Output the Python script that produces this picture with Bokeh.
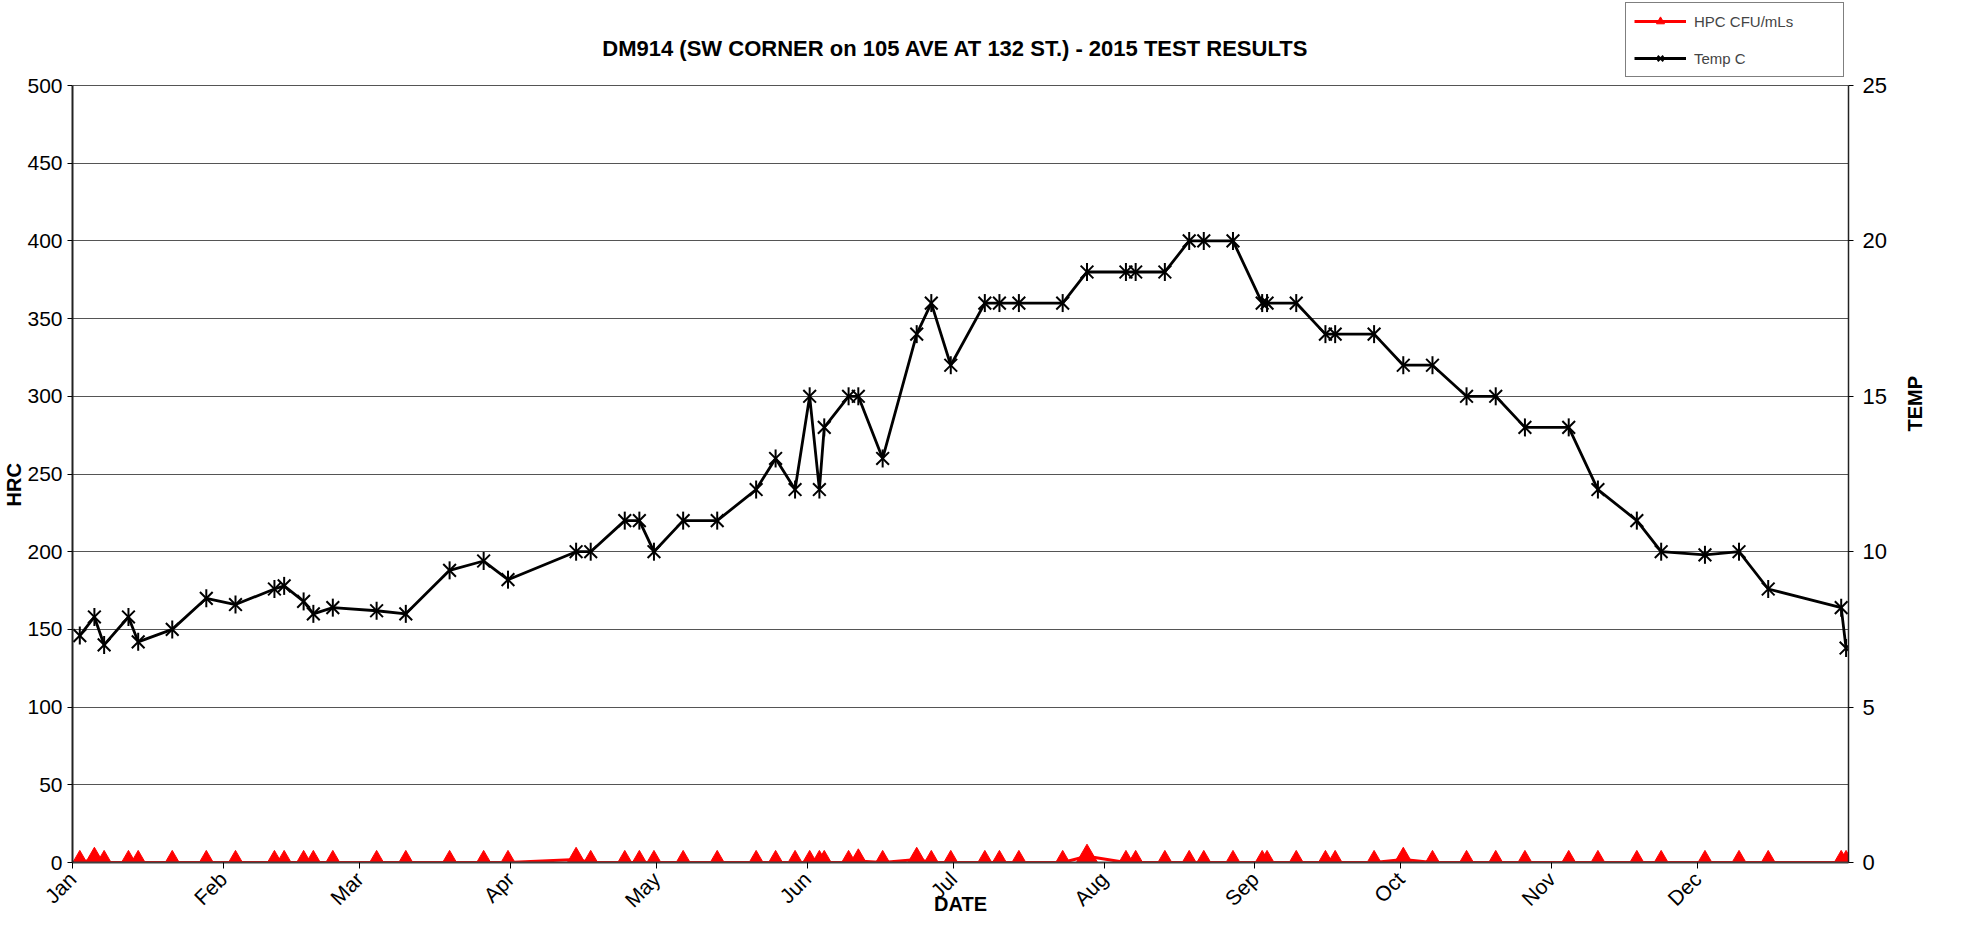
from math import pi
import pandas as pd
from bokeh.plotting import figure
from bokeh.models import (Range1d, LinearAxis, FixedTicker, Label, Legend, LegendItem,
                          ColumnDataSource, Title)
from bokeh.embed import file_html
from bokeh.resources import INLINE

# ---------------- data ----------------
dates = [
    "2015-01-02", "2015-01-05", "2015-01-07", "2015-01-12", "2015-01-14", "2015-01-21", "2015-01-28",
    "2015-02-03", "2015-02-11", "2015-02-13", "2015-02-17", "2015-02-19", "2015-02-23",
    "2015-03-04", "2015-03-10", "2015-03-19", "2015-03-26", "2015-03-31",
    "2015-04-14", "2015-04-17", "2015-04-24", "2015-04-27", "2015-04-30",
    "2015-05-06", "2015-05-13", "2015-05-21", "2015-05-25", "2015-05-29",
    "2015-06-01", "2015-06-03", "2015-06-04", "2015-06-09", "2015-06-11", "2015-06-16",
    "2015-06-23", "2015-06-26", "2015-06-30",
    "2015-07-07", "2015-07-10", "2015-07-14", "2015-07-23", "2015-07-28",
    "2015-08-05", "2015-08-07", "2015-08-13", "2015-08-18", "2015-08-21", "2015-08-27",
    "2015-09-02", "2015-09-03", "2015-09-09", "2015-09-15", "2015-09-17", "2015-09-25",
    "2015-10-01", "2015-10-07", "2015-10-14", "2015-10-20", "2015-10-26",
    "2015-11-04", "2015-11-10", "2015-11-18", "2015-11-23",
    "2015-12-02", "2015-12-09", "2015-12-15", "2015-12-30", "2015-12-31",
]
temp_c = [
    7.3, 7.9, 7.0, 7.9, 7.1, 7.5, 8.5,
    8.3, 8.8, 8.9, 8.4, 8.0, 8.2,
    8.1, 8.0, 9.4, 9.7, 9.1,
    10, 10, 11, 11, 10,
    11, 11, 12, 13, 12,
    15, 12, 14, 15, 15, 13,
    17, 18, 16,
    18, 18, 18, 18, 19,
    19, 19, 19, 20, 20, 20,
    18, 18, 18, 17, 17, 17,
    16, 16, 15, 15, 14,
    14, 12, 11, 10,
    9.9, 10, 8.8, 8.2, 6.9,
]
hpc_cfu = [
    0, 2, 0, 0, 0, 0, 0,
    0, 0, 0, 0, 0, 0,
    0, 0, 0, 0, 0,
    2, 0, 0, 0, 0,
    0, 0, 0, 0, 0,
    0, 0, 0, 0, 1, 0,
    2, 0, 0,
    0, 0, 0, 0, 4,
    0, 0, 0, 0, 0, 0,
    0, 0, 0, 0, 0, 0,
    2, 0, 0, 0, 0,
    0, 0, 0, 0,
    0, 0, 0, 0, 0,
]
months = ["Jan", "Feb", "Mar", "Apr", "May", "Jun", "Jul", "Aug", "Sep", "Oct", "Nov", "Dec"]
hrc_ticks = [0, 50, 100, 150, 200, 250, 300, 350, 400, 450, 500]
temp_ticks = [0, 5, 10, 15, 20, 25]
title_text = "DM914 (SW CORNER on 105 AVE AT 132 ST.) - 2015 TEST RESULTS"

# ---------------- layout constants ----------------
W, H = 1980, 925
FRAME_L, FRAME_R, FRAME_B = 72, 1848, 862      # canvas px
PLOT_TOP = 85                                   # where 500 / 25 sits
HRC_MAX, TEMP_MAX = 500, 25
stretch = (FRAME_B - 0) / (FRAME_B - PLOT_TOP)  # frame runs to canvas top
FONT = "Liberation Sans"

# ---------------- derived positions ----------------
year_start = pd.Timestamp("2015-01-01")
day = [(pd.Timestamp(d) - year_start).days + 0.5 for d in dates]
month_pos = [(m - year_start).days for m in pd.date_range("2015-01-01", periods=12, freq="MS")]
src = ColumnDataSource(dict(day=day, temp=temp_c, hpc=hpc_cfu))

p = figure(width=W, height=H, x_range=Range1d(0, 365), y_range=Range1d(0, HRC_MAX * stretch),
           output_backend="svg", toolbar_location=None,
           min_border_left=FRAME_L, min_border_right=W - FRAME_R, min_border_top=0,
           min_border_bottom=H - FRAME_B,
           outline_line_color=None, background_fill_color="white", border_fill_color="white")
p.extra_y_ranges = {"temp": Range1d(0, TEMP_MAX * stretch)}

# x axis
xa = p.xaxis[0]
xa.ticker = FixedTicker(ticks=month_pos)
xa.major_label_overrides = {pos: m for pos, m in zip(month_pos, months)}
xa.major_label_orientation = pi / 4
xa.major_label_text_font = FONT
xa.major_label_text_font_size = "21px"
xa.major_label_text_color = "black"
xa.major_label_standoff = 7
xa.axis_line_color = "#404040"
xa.axis_line_width = 2
xa.major_tick_out = 6
xa.major_tick_in = 0
xa.major_tick_line_color = "black"
xa.minor_tick_line_color = None
xa.axis_label = "DATE"
xa.axis_label_text_font = FONT
xa.axis_label_text_font_style = "bold"
xa.axis_label_text_font_size = "20px"
xa.axis_label_text_color = "black"
xa.axis_label_standoff = -30

# left axis
ya = p.yaxis[0]
ya.ticker = FixedTicker(ticks=hrc_ticks)
ya.bounds = (0, HRC_MAX)
ya.major_label_text_font = FONT
ya.major_label_text_font_size = "21px"
ya.major_label_text_color = "black"
ya.major_label_standoff = 5
ya.axis_line_color = "#222222"
ya.axis_line_width = 2
ya.major_tick_out = 5
ya.major_tick_in = 0
ya.minor_tick_line_color = None

# HRC title, left of the tick labels, lifted from the frame bottom toward the 250 line
p.add_layout(Title(text="HRC", align="left", offset=356, standoff=0, text_font=FONT,
                   text_font_style="bold", text_font_size="20px", text_color="black"), "left")

# right axis
ra = LinearAxis(y_range_name="temp", ticker=FixedTicker(ticks=temp_ticks), bounds=(0, TEMP_MAX))
ra.major_label_text_font = FONT
ra.major_label_text_font_size = "22px"
ra.major_label_text_color = "black"
ra.major_label_standoff = 9
ra.axis_line_color = "#222222"
ra.axis_line_width = 1.5
ra.major_tick_out = 5
ra.major_tick_in = 0
ra.minor_tick_line_color = None
p.add_layout(ra, "right")

# second right axis only carries the TEMP title
ta = LinearAxis(y_range_name="temp", ticker=FixedTicker(ticks=[]), axis_label="TEMP")
ta.axis_line_color = None
ta.major_tick_out = 0
ta.major_tick_in = 0
ta.minor_tick_line_color = None
ta.major_label_standoff = 0
ta.axis_label_text_font = FONT
ta.axis_label_text_font_style = "bold"
ta.axis_label_text_font_size = "20px"
ta.axis_label_text_color = "black"
ta.axis_label_standoff = 25
if "axis_label_orientation" in ta.properties():
    ta.axis_label_orientation = pi / 2
p.add_layout(ta, "right")

p.xgrid.visible = False
p.ygrid.ticker = FixedTicker(ticks=hrc_ticks)
p.ygrid.grid_line_color = "#555555"
p.ygrid.grid_line_width = 1

# series
t_line = p.line("day", "temp", source=src, y_range_name="temp", line_color="black", line_width=2.8)
t_x = p.scatter("day", "temp", source=src, y_range_name="temp", marker="x", size=18,
                line_color="black", line_width=2)
t_v = p.scatter("day", "temp", source=src, y_range_name="temp", marker="dash", size=18, angle=pi / 2,
                line_color="black", line_width=2)
h_line = p.line("day", "hpc", source=src, line_color="red", line_width=3)
h_pts = p.scatter("day", "hpc", source=src, marker="triangle", size=21,
                  fill_color="red", line_color="red")

# title (inside the tall frame, above the 500 line)
p.add_layout(Label(x=181.5, y=HRC_MAX, y_offset=PLOT_TOP - 48, text=title_text, text_font=FONT,
                   text_font_style="bold", text_font_size="22px", text_align="center",
                   text_baseline="middle", text_color="black"))

legend = Legend(items=[LegendItem(label="HPC CFU/mLs", renderers=[h_line, h_pts]),
                       LegendItem(label="Temp C", renderers=[t_line, t_x, t_v])],
                location=(1625 - FRAME_L, FRAME_B - 77), orientation="vertical",
                border_line_color="black", border_line_width=1,
                background_fill_color="white", background_fill_alpha=1,
                label_text_font=FONT, label_text_font_size="15px",
                glyph_width=52, glyph_height=20, label_height=20, spacing=17,
                padding=8, margin=0, label_standoff=8, label_width=141)
p.add_layout(legend, "center")

open("out.html", "w").write(file_html(p, INLINE))
